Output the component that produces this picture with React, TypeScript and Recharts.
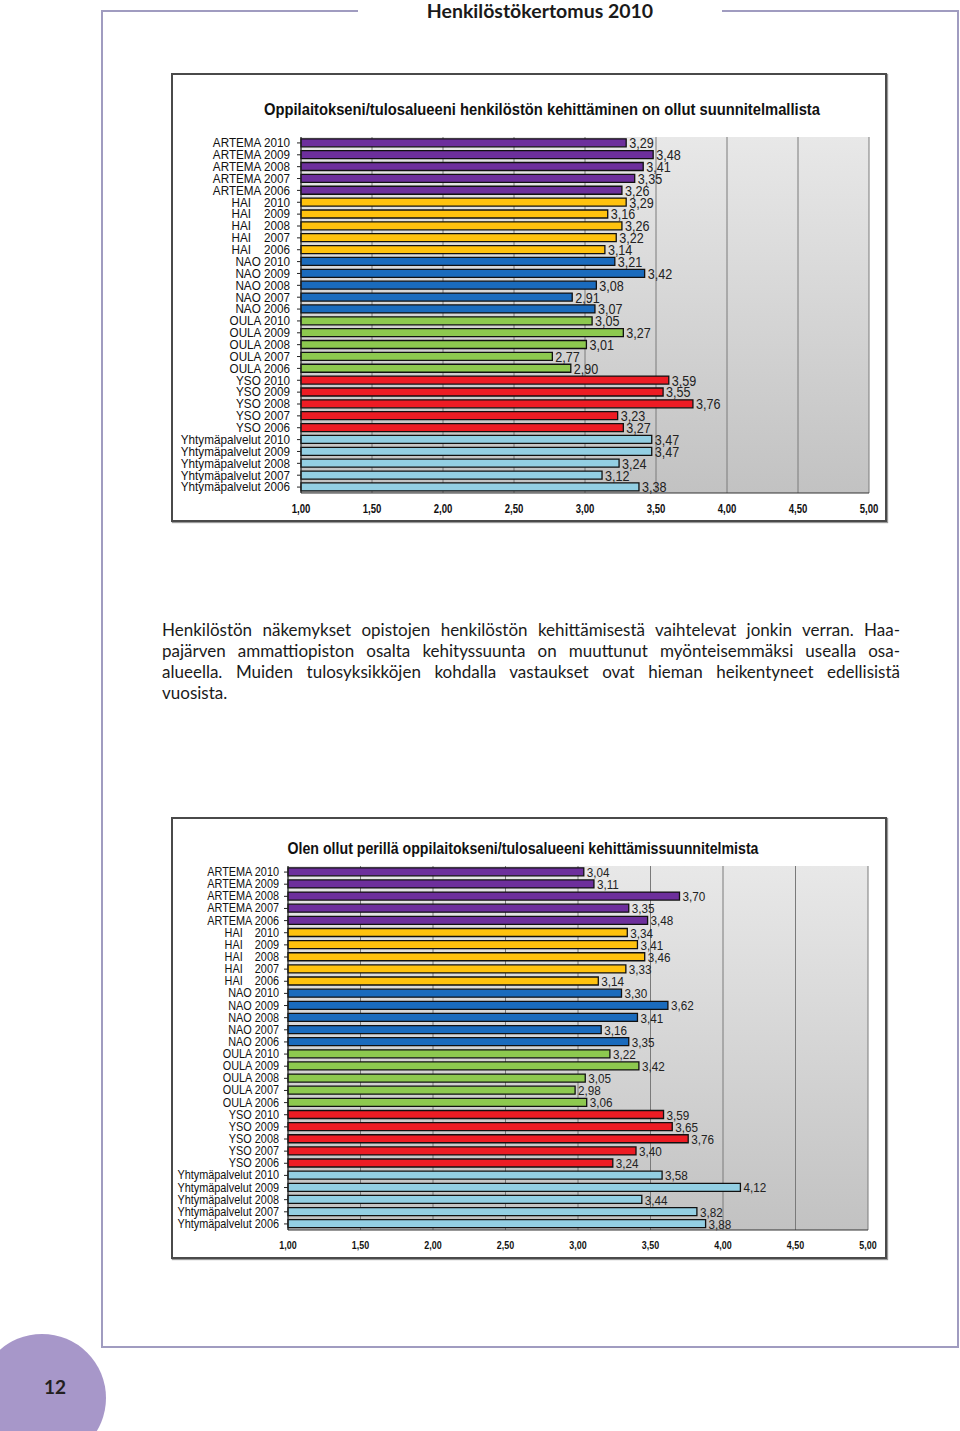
import React from 'react';
import { Bar, BarChart, CartesianGrid, Cell, LabelList, XAxis, YAxis } from 'recharts';

const CATEGORIES = [
  'ARTEMA 2010', 'ARTEMA 2009', 'ARTEMA 2008', 'ARTEMA 2007', 'ARTEMA 2006',
  'HAI\u00a0\u00a0\u00a0\u00a02010', 'HAI\u00a0\u00a0\u00a0\u00a02009', 'HAI\u00a0\u00a0\u00a0\u00a02008', 'HAI\u00a0\u00a0\u00a0\u00a02007', 'HAI\u00a0\u00a0\u00a0\u00a02006',
  'NAO 2010', 'NAO 2009', 'NAO 2008', 'NAO 2007', 'NAO 2006',
  'OULA 2010', 'OULA 2009', 'OULA 2008', 'OULA 2007', 'OULA 2006',
  'YSO 2010', 'YSO 2009', 'YSO 2008', 'YSO 2007', 'YSO 2006',
  'Yhtymäpalvelut 2010', 'Yhtymäpalvelut 2009', 'Yhtymäpalvelut 2008', 'Yhtymäpalvelut 2007', 'Yhtymäpalvelut 2006',
];

// one colour per unit, five years each
const GROUP_COLORS = ['#6d2f9c', '#ffc20e', '#1a6bbd', '#8dc94f', '#ed1c24', '#93cfe3'];

const PLANNED = [
  3.29, 3.48, 3.41, 3.35, 3.26,
  3.29, 3.16, 3.26, 3.22, 3.14,
  3.21, 3.42, 3.08, 2.91, 3.07,
  3.05, 3.27, 3.01, 2.77, 2.9,
  3.59, 3.55, 3.76, 3.23, 3.27,
  3.47, 3.47, 3.24, 3.12, 3.38,
];

const AWARE = [
  3.04, 3.11, 3.7, 3.35, 3.48,
  3.34, 3.41, 3.46, 3.33, 3.14,
  3.3, 3.62, 3.41, 3.16, 3.35,
  3.22, 3.42, 3.05, 2.98, 3.06,
  3.59, 3.65, 3.76, 3.4, 3.24,
  3.58, 4.12, 3.44, 3.82, 3.88,
];

const X_TICKS = [1, 1.5, 2, 2.5, 3, 3.5, 4, 4.5, 5];

const PARAGRAPH = [
  'Henkilöstön näkemykset opistojen henkilöstön kehittämisestä vaihtelevat jonkin verran. Haa-',
  'pajärven ammattiopiston osalta kehityssuunta on muuttunut myönteisemmäksi usealla osa-',
  'alueella. Muiden tulosyksikköjen kohdalla vastaukset ovat hieman heikentyneet edellisistä',
  'vuosista.',
];

const ARIAL = "'Liberation Sans', Arial, sans-serif";
const PAGE_FONT = "Lato, 'Open Sans', sans-serif";
const FRAME = '#a09cc0';
const SQUEEZE = 0.9; // fake Arial Narrow

const fmt = (v: number) => v.toFixed(2).replace('.', ',');

interface ChartProps {
  title: string;
  titleX: number;
  titleY: number;
  titleWidth: number;
  values: number[];
  top: number;
  height: number;
  yWidth: number;
  labelShift: number;
  margin: { top: number; right: number; bottom: number; left: number };
  scale: number;
  gradientId: string;
}

const BoxChart: React.FC<ChartProps> = ({
  title, titleX, titleY, titleWidth, values, top, height, yWidth, labelShift, margin, scale, gradientId,
}) => {
  const data = CATEGORIES.map((name, i) => ({ name, value: values[i] }));

  const CategoryTick = (props: any) => {
    const { x, y, payload } = props;
    return (
      <g transform={`translate(${x + labelShift},${y})`}>
        <text
          transform={`scale(${SQUEEZE},1)`}
          dy={4.3 * scale}
          textAnchor='end'
          fontFamily={ARIAL}
          fontSize={13 * scale}
          fill='#111'
        >
          {payload.value}
        </text>
      </g>
    );
  };

  const ValueTick = (props: any) => {
    const { x, y, payload } = props;
    return (
      <g transform={`translate(${x},${y})`}>
        <text
          transform={`scale(0.8,1)`}
          dy='0.71em'
          textAnchor='middle'
          fontFamily={ARIAL}
          fontWeight='bold'
          fontSize={12 * scale}
          fill='#111'
        >
          {fmt(payload.value)}
        </text>
      </g>
    );
  };

  const BarValue = (props: any) => {
    const { x, y, width, height: h, value } = props;
    return (
      <g transform={`translate(${x + width + 3},${y + h / 2})`}>
        <text
          transform={`scale(${SQUEEZE},1)`}
          dy={5.5 * scale}
          fontFamily={ARIAL}
          fontSize={14 * scale}
          fill='#222'
        >
          {fmt(Number(value))}
        </text>
      </g>
    );
  };

  return (
    <div
      style={{
        position: 'absolute',
        left: 171,
        top,
        width: 716,
        height,
        boxSizing: 'border-box',
        border: '2px solid #4a4a4a',
        boxShadow: '1px 1px 1px #999',
        background: '#fff',
      }}
    >
      <svg width={716} height={70} style={{ position: 'absolute', left: -2, top: -2, overflow: 'visible' }}>
        <text
          x={titleX}
          y={titleY}
          textAnchor='middle'
          textLength={titleWidth}
          lengthAdjust='spacingAndGlyphs'
          fontFamily={ARIAL}
          fontWeight='bold'
          fontSize={17 * scale}
          fill='#111'
        >
          {title}
        </text>
      </svg>
      <div style={{ position: 'absolute', left: -2, top: -2 }}>
        <BarChart layout='vertical' width={716} height={height} data={data} margin={margin} barCategoryGap='15%'>
          <CartesianGrid horizontal={false} stroke='#7a7a7a' fill={`url(#${gradientId})`} fillOpacity={1} />
          <XAxis
            type='number'
            domain={[1, 5]}
            ticks={X_TICKS}
            axisLine={{ stroke: '#333' }}
            tickLine={false}
            tickMargin={5}
            height={25}
            tick={<ValueTick />}
          />
          <YAxis
            type='category'
            dataKey='name'
            width={yWidth}
            interval={0}
            axisLine={{ stroke: '#222' }}
            tickLine={{ stroke: '#222' }}
            tickSize={4}
            tick={<CategoryTick />}
          />
          <Bar dataKey='value' stroke='#111' strokeWidth={1.3} isAnimationActive={false}>
            {data.map((_, i) => (
              <Cell key={i} fill={GROUP_COLORS[Math.floor(i / 5)]} />
            ))}
            <LabelList dataKey='value' content={<BarValue />} />
          </Bar>
        </BarChart>
      </div>
    </div>
  );
};

export default function App() {
  return (
    <div style={{ position: 'absolute', left: 0, top: 0, width: 960, height: 1431, background: '#fff', overflow: 'hidden' }}>
      <svg width={0} height={0} style={{ position: 'absolute' }}>
        <defs>
          <linearGradient id='bg1' x1='0' y1='0' x2='0' y2='1'>
            <stop offset='0%' stopColor='#e8e8e8' />
            <stop offset='100%' stopColor='#c2c2c2' />
          </linearGradient>
          <linearGradient id='bg2' x1='0' y1='0' x2='0' y2='1'>
            <stop offset='0%' stopColor='#e8e8e8' />
            <stop offset='100%' stopColor='#c2c2c2' />
          </linearGradient>
        </defs>
      </svg>

      {/* page frame */}
      <div style={{ position: 'absolute', left: 101, top: 10, width: 257, height: 2, background: FRAME }} />
      <div style={{ position: 'absolute', left: 722, top: 10, width: 237, height: 2, background: FRAME }} />
      <div style={{ position: 'absolute', left: 101, top: 10, width: 2, height: 1338, background: FRAME }} />
      <div style={{ position: 'absolute', left: 957, top: 10, width: 2, height: 1338, background: FRAME }} />
      <div style={{ position: 'absolute', left: 101, top: 1346, width: 858, height: 2, background: FRAME }} />
      <div
        style={{
          position: 'absolute',
          left: 360,
          width: 360,
          top: 0,
          textAlign: 'center',
          fontFamily: PAGE_FONT,
          fontWeight: 'bold',
          fontSize: 19.5,
          lineHeight: '21px',
          color: '#1a1a1a',
        }}
      >
        Henkilöstökertomus 2010
      </div>

      <BoxChart
        title='Oppilaitokseni/tulosalueeni henkilöstön kehittäminen on ollut suunnitelmallista'
        titleX={371}
        titleY={42}
        titleWidth={556}
        values={PLANNED}
        top={73}
        height={449}
        yWidth={120}
        labelShift={-5}
        margin={{ top: 64, right: 18, bottom: 4, left: 10 }}
        scale={1}
        gradientId='bg1'
      />

      <div style={{ position: 'absolute', left: 162, top: 619, width: 738, fontFamily: PAGE_FONT, fontSize: 17, lineHeight: '21px', color: '#1a1a1a' }}>
        {PARAGRAPH.map((line, i) => (
          <div
            key={i}
            style={{
              whiteSpace: 'nowrap',
              textAlign: 'justify',
              textAlignLast: i < PARAGRAPH.length - 1 ? 'justify' : 'left',
            }}
          >
            {line}
          </div>
        ))}
      </div>

      <BoxChart
        title='Olen ollut perillä oppilaitokseni/tulosalueeni kehittämissuunnitelmista'
        titleX={352}
        titleY={37}
        titleWidth={471}
        values={AWARE}
        top={817}
        height={442}
        yWidth={107}
        labelShift={-3}
        margin={{ top: 49, right: 19, bottom: 4, left: 10 }}
        scale={0.93}
        gradientId='bg2'
      />

      <div
        style={{
          position: 'absolute',
          left: 42 - 64,
          top: 1398 - 64,
          width: 128,
          height: 128,
          borderRadius: '50%',
          background: '#a797c9',
        }}
      />
      <div
        style={{
          position: 'absolute',
          left: 35,
          width: 40,
          top: 1375,
          textAlign: 'center',
          fontFamily: PAGE_FONT,
          fontWeight: 'bold',
          fontSize: 19,
          color: '#231f20',
        }}
      >
        12
      </div>
    </div>
  );
}
